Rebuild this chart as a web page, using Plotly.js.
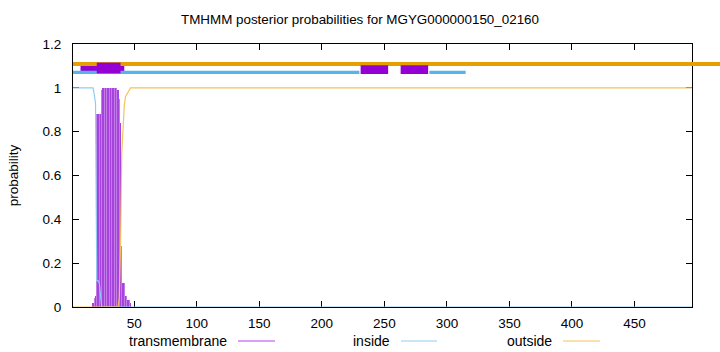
<!DOCTYPE html>
<html><head><meta charset="utf-8">
<script src="https://cdn.plot.ly/plotly-3.0.1.min.js"></script>
<style>body{margin:0;background:#fff;}#chart{width:720px;height:352px;}</style>
</head><body><div id="chart"></div>
<script>
// per-residue posterior probabilities
const tmResidue = [17,18,19,20,21,22,23,24,25,26,27,28,29,30,31,32,33,34,35,36,37,38,39,40,41,42,43,44,45,46,47];
const tmProb    = [0.02,0.04,0.05,0.88,0.88,0.88,0.88,0.99,1,1,1,1,1,1,1,1,1,1,1,1,0.99,0.95,0.84,0.28,0.11,0.11,0.05,0.05,0.03,0.03,0.02];
const insideResidue = [1,17,18,19,20,21,22,23,24,496];
const insideProb    = [1,1,0.97,0.93,0.12,0.12,0.11,0.05,0,0];
const outsideResidue = [1,37,38,39,40,41,42,43,44,45,46,47,496];
const outsideProb    = [0,0,0.04,0.28,0.7,0.82,0.92,0.96,0.97,0.98,0.99,1,1];

// topology segments drawn above the curves
const tmUnderStart = [7],  tmUnderEnd = [42];
const tmBoxStart = [20, 231, 263], tmBoxEnd = [39, 253, 285];
const insideSegStart = [1, 286], insideSegEnd = [230, 315];
const outsideSegStart = [1], outsideSegEnd = [530];

const xRange = [1, 496];
const xTicks = [50,100,150,200,250,300,350,400,450];

const C_TM = '#9400d3', C_IN = '#56b4e9', C_OUT = '#e69f00';
const FONT = 'Liberation Sans, Arial, sans-serif';
const barColors = tmResidue.map((r,i) => i % 2 ? '#c47ae9' : '#a642de');

const traces = [
  {type:'bar', x: tmResidue, y: tmProb, width: 1.15, marker:{color: barColors, line:{width:0}}, showlegend:false, hoverinfo:'none'},
  {type:'scatter', mode:'lines', x: insideResidue, y: insideProb, line:{color:'#8fcdf0', width:1.2}, showlegend:false},
  {type:'scatter', mode:'lines', x: outsideResidue, y: outsideProb, line:{color:'#f2c45a', width:1.2}, showlegend:false}
];

const shapes = [];
const toPaper = v => (v - xRange[0]) / (xRange[1] - xRange[0]);
tmUnderStart.forEach((s,i) => shapes.push({type:'rect', xref:'x', yref:'y', x0:s, x1:tmUnderEnd[i], y0:1.066, y1:1.112, fillcolor:C_TM, line:{width:0}, layer:'above'}));
outsideSegStart.forEach((s,i) => shapes.push({type:'rect', xref:'paper', yref:'y', x0:toPaper(s), x1:toPaper(outsideSegEnd[i]), y0:1.1, y1:1.118, fillcolor:C_OUT, line:{width:0}, layer:'above'}));
insideSegStart.forEach((s,i) => shapes.push({type:'rect', xref:'x', yref:'y', x0:s, x1:insideSegEnd[i], y0:1.063, y1:1.078, fillcolor:C_IN, line:{width:0}, layer:'above'}));
tmBoxStart.forEach((s,i) => shapes.push({type:'rect', xref:'x', yref:'y', x0:s, x1:tmBoxEnd[i], y0: i===0?1.066:1.063, y1: i===0?1.115:1.103, fillcolor:C_TM, line:{width:0}, layer:'above'}));

// legend (gnuplot style: text then sample line)
const legendItems = [
  {text:'transmembrane', color:'#b040f0', xText:229, x0:238, x1:275},
  {text:'inside', color:'#8fcdf0', xText:392, x0:401, x1:437},
  {text:'outside', color:'#f2c45a', xText:554, x0:563, x1:600}
];
const plotL = 73, plotW = 619, plotT = 44, plotH = 263;
const px2x = p => (p - plotL) / plotW;
const py2y = p => (plotT + plotH - p) / plotH;
const annotations = [];
legendItems.forEach(it => {
  annotations.push({xref:'paper', yref:'paper', x:px2x(it.xText), y:py2y(341), xanchor:'right', yanchor:'middle', text:it.text, showarrow:false, font:{family:FONT, size:14, color:'#000'}});
  shapes.push({type:'line', xref:'paper', yref:'paper', x0:px2x(it.x0), x1:px2x(it.x1), y0:py2y(341), y1:py2y(341), line:{color:it.color, width:1}});
});

const axisCommon = {showline:true, linecolor:'#000', linewidth:1, mirror:'allticks', ticks:'inside', ticklen:6, tickcolor:'#000', showgrid:false, zeroline:false, layer:'below traces', tickfont:{family:FONT, size:13.5, color:'#000'}};

const layout = {
  width:720, height:352,
  margin:{l:73, r:28, t:44, b:45},
  paper_bgcolor:'#fff', plot_bgcolor:'#fff',
  bargap:0,
  title:{text:'TMHMM posterior probabilities for MGYG000000150_02160', font:{family:FONT, size:13.4, color:'#000'}, x:0.5, xanchor:'center', y:0.945, yanchor:'middle'},
  xaxis: Object.assign({}, axisCommon, {range:xRange, tickvals:xTicks, ticktext:xTicks.map(String), ticklabelstandoff:4}),
  yaxis: Object.assign({}, axisCommon, {range:[0,1.2], dtick:0.2, tick0:0, ticklabelstandoff:8, title:{text:'probability', standoff:20, font:{family:FONT, size:13.5, color:'#000'}}}),
  shapes: shapes,
  annotations: annotations,
  showlegend:false
};

Plotly.newPlot('chart', traces, layout, {displayModeBar:false, staticPlot:true});
</script>
</body></html>
